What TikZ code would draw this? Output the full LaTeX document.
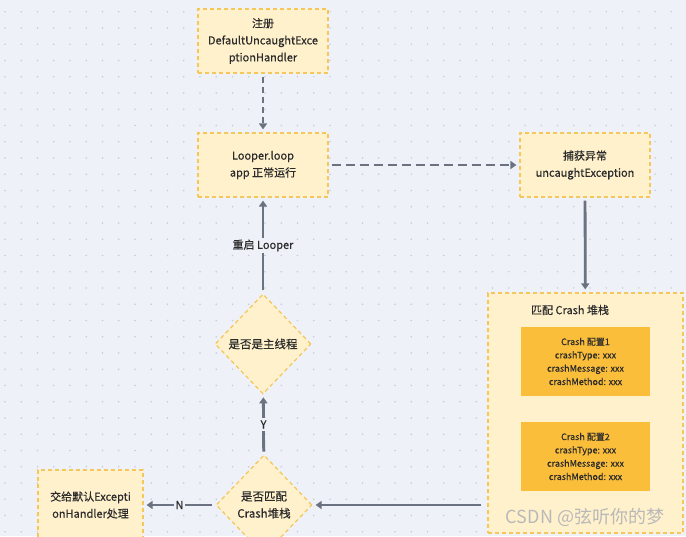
\documentclass[tikz,border=0pt]{standalone}
\usepackage{fontspec}
\setmainfont{Noto Sans CJK SC}[BoldFont=*, BoldFeatures={FakeBold=0.4}]
\usepackage{tikz}
\usetikzlibrary{calc}
\usetikzlibrary{positioning}
\usetikzlibrary{arrows.meta}
\usetikzlibrary{shapes.geometric}
\definecolor{bgColor}{HTML}{EEF1F8}
\definecolor{dotColor}{HTML}{C6CBD6}
\definecolor{boxFill}{HTML}{FFF1CC}
\definecolor{boxLine}{HTML}{F5C65A}
\definecolor{cfgFill}{HTML}{FBBE3B}
\definecolor{arrowColor}{HTML}{6B7380}
\definecolor{textColor}{HTML}{2B2B2B}
\tikzset{
  stepNode/.style={%
    rectangle, draw=boxLine, fill=boxFill, line width=1.2pt,
    dash pattern=on 4pt off 3pt, minimum width=130pt, minimum height=64pt,
    align=center, text=textColor, font=\fontsize{11}{17}\selectfont\bfseries,
  },
  decisionNode/.style={%
    diamond, draw=boxLine, fill=boxFill, line width=1.2pt,
    dash pattern=on 4pt off 3pt, minimum width=96pt, minimum height=100pt,
    inner sep=0pt, align=center, text=textColor,
    font=\fontsize{11.5}{17}\selectfont\bfseries,
  },
  configNode/.style={%
    rectangle, fill=cfgFill, minimum width=129pt, minimum height=69pt,
    align=center, text=textColor, font=\fontsize{9}{13.3}\selectfont\bfseries,
  },
  flowArrow/.style={%
    draw=arrowColor, line width=2.8pt,
    -{Triangle[length=6pt,width=8pt]},
  },
  edgeLabel/.style={%
    fill=bgColor, text=textColor, inner sep=2pt,
    font=\fontsize{11}{12}\selectfont\bfseries,
  },
}

\begin{document}
\begin{tikzpicture}[x=1pt,y=-1pt]
                \useasboundingbox[fill=bgColor] (0,0) rectangle (686,536);
                % dotted canvas
                \foreach \i in {0,...,41}
                  \foreach \j in {0,...,32}
                    \fill[dotColor] (5+16.25*\i, 11.7+16.25*\j) circle (0.8pt);
                \node[stepNode]
                  (register) at (263,41) {注册\\DefaultUncaughtExce\\ptionHandler};
                \node[stepNode]
                  (looper) at (263,165) {Looper.loop\\app 正常运行};
                \node[stepNode]
                  (catch) at (585,165) {捕获异常\\uncaughtException};
                \node[rectangle, draw=boxLine, fill=boxFill, line width=1.2pt,
                  dash pattern=on 4pt off 3pt, minimum width=195pt, minimum height=240pt]
                  (stack) at (585.5,413) {};
                \node[text=textColor, font=\fontsize{11}{13}\selectfont\bfseries]
                  (stackTitle) at (570,310) {匹配 Crash 堆栈};
                \node[configNode]
                  (config1) at (585.5,361.5) {Crash 配置1\\crashType: xxx\\crashMessage: xxx\\crashMethod: xxx};
                \node[configNode]
                  (config2) at (585.5,456.5) {Crash 配置2\\crashType: xxx\\crashMessage: xxx\\crashMethod: xxx};
                \node[decisionNode]
                  (isMain) at (263,344) {是否是主线程};
                \node[decisionNode]
                  (isMatch) at (264,505) {是否匹配\\Crash堆栈};
                \node[stepNode, minimum width=105pt, minimum height=70pt]
                  (fallback) at (90.5,505) {交给默认Excepti\\onHandler处理};
                % connectors
                \draw[flowArrow, dash pattern=on 6pt off 4pt, shorten <=3pt, shorten >=3pt]
                  (register) -- (looper);
                \draw[flowArrow, dash pattern=on 9pt off 5pt, shorten <=3pt, shorten >=3pt]
                  (looper) -- (catch);
                \draw[flowArrow, shorten <=3pt, shorten >=3pt]
                  (catch) -- (stack);
                \draw[flowArrow, shorten <=6pt, shorten >=3pt]
                  (stack.west |- isMatch) -- (isMatch);
                \draw[flowArrow, shorten <=3pt, shorten >=3pt]
                  (isMatch) -- node[edgeLabel] (noLabel) {N} (fallback);
                \draw[flowArrow, shorten <=3pt, shorten >=3pt]
                  (isMatch) -- node[edgeLabel] (yesLabel) {Y} (isMain);
                \draw[flowArrow, shorten <=3pt, shorten >=3pt]
                  (isMain) -- node[edgeLabel] (restartLabel) {重启 Looper} (looper);
                % watermark
                \node[text=gray!55, font=\fontsize{18}{20}\selectfont]
                  (mark) at (585,517) {CSDN @弦听你的梦};
              \end{tikzpicture}
\end{document}
